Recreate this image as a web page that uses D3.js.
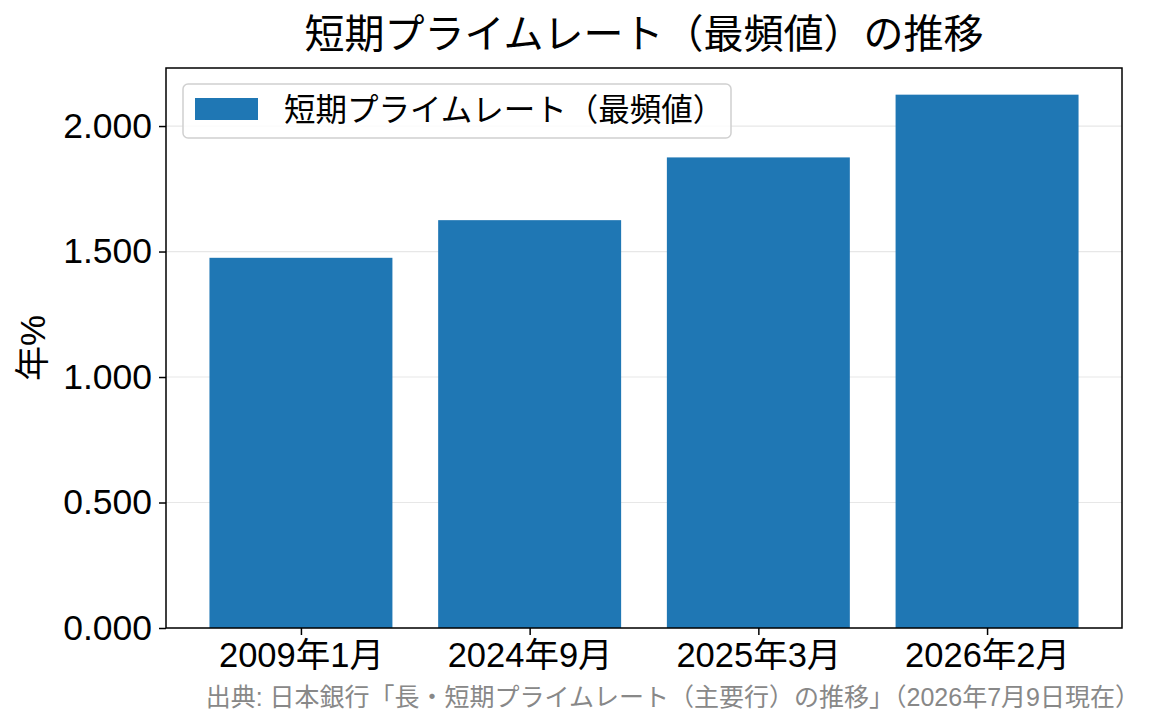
<!DOCTYPE html>
<html>
<head>
<meta charset="utf-8">
<script src="https://cdn.jsdelivr.net/npm/d3@7"></script>
<style>
  body { margin: 0; background: #fff; }
  text { font-family: "Liberation Sans", "Noto Sans CJK JP", sans-serif; }
</style>
</head>
<body>
<svg id="chart"></svg>
<script>
const categories = ['2009年1月', '2024年9月', '2025年3月', '2026年2月'];
const rates = [1.475, 1.625, 1.875, 2.125];
const yTicks = [0, 0.5, 1.0, 1.5, 2.0];
const title = '短期プライムレート（最頻値）の推移';
const seriesName = '短期プライムレート（最頻値）';
const yLabel = '年%';
const sourceNote = '出典: 日本銀行「長・短期プライムレート（主要行）の推移」（2026年7月9日現在）';

const W = 1165, H = 725;
const margin = { top: 68, right: 43, bottom: 97, left: 166 };
const width = W - margin.left - margin.right;
const height = H - margin.top - margin.bottom;

const svg = d3.select('#chart').attr('width', W).attr('height', H);
const g = svg.append('g').attr('transform', `translate(${margin.left},${margin.top})`);

// bars 0.8 wide, 5% side margins
const span = (categories.length - 1) + 0.8;
const pad = span * 0.05;
const x = d3.scaleLinear()
  .domain([-0.4 - pad, categories.length - 1 + 0.4 + pad])
  .range([0, width]);

const y = d3.scaleLinear()
  .domain([0, d3.max(rates) * 1.05])
  .range([height, 0]);

// grid
g.append('g')
  .selectAll('line')
  .data(yTicks)
  .join('line')
  .attr('x1', 0).attr('x2', width)
  .attr('y1', d => y(d)).attr('y2', d => y(d))
  .attr('stroke', '#b0b0b0').attr('stroke-opacity', 0.3).attr('stroke-width', 1.2);

g.selectAll('rect.bar')
  .data(rates)
  .join('rect')
  .attr('class', 'bar')
  .attr('x', (d, i) => x(i - 0.4))
  .attr('width', x(0.8) - x(0))
  .attr('y', d => y(d))
  .attr('height', d => height - y(d))
  .attr('fill', '#1f77b4');

// frame
g.append('rect')
  .attr('width', width).attr('height', height)
  .attr('fill', 'none').attr('stroke', '#000').attr('stroke-width', 1.5);

const xAxis = d3.axisBottom(x)
  .tickValues(d3.range(categories.length))
  .tickFormat(i => categories[i])
  .tickSize(7).tickPadding(8);
const xg = g.append('g').attr('transform', `translate(0,${height})`).call(xAxis);
xg.select('.domain').remove();
xg.selectAll('line').attr('stroke-width', 1.5);
xg.selectAll('text').attr('font-size', '34.5px').attr('fill', '#000');

const yAxis = d3.axisLeft(y)
  .tickValues(yTicks)
  .tickFormat(d3.format('.3f'))
  .tickSize(7).tickPadding(7);
const yg = g.append('g').call(yAxis);
yg.select('.domain').remove();
yg.selectAll('line').attr('stroke-width', 1.5);
yg.selectAll('text').attr('font-size', '35.5px').attr('fill', '#000');

// y label
svg.append('text')
  .attr('transform', `translate(45,${margin.top + height / 2}) rotate(-90)`)
  .attr('text-anchor', 'middle')
  .attr('font-size', '35px')
  .text(yLabel);

// title
svg.append('text')
  .attr('x', margin.left + width / 2)
  .attr('y', 48)
  .attr('text-anchor', 'middle')
  .attr('font-size', '40px')
  .text(title);

// legend
const lg = g.append('g').attr('transform', 'translate(17,16)');
lg.append('rect')
  .attr('width', 548).attr('height', 54).attr('rx', 5)
  .attr('fill', '#fff').attr('fill-opacity', 0.8)
  .attr('stroke', '#d0d0d0').attr('stroke-width', 1.5);
lg.append('rect')
  .attr('x', 12).attr('y', 14).attr('width', 63).attr('height', 22)
  .attr('fill', '#1f77b4');
lg.append('text')
  .attr('x', 101).attr('y', 37)
  .attr('font-size', '31.5px')
  .text(seriesName);

// source
svg.append('text')
  .attr('x', 1140).attr('y', 706)
  .attr('text-anchor', 'end')
  .attr('font-size', '25px')
  .attr('fill', '#888')
  .text(sourceNote);
</script>
</body>
</html>
